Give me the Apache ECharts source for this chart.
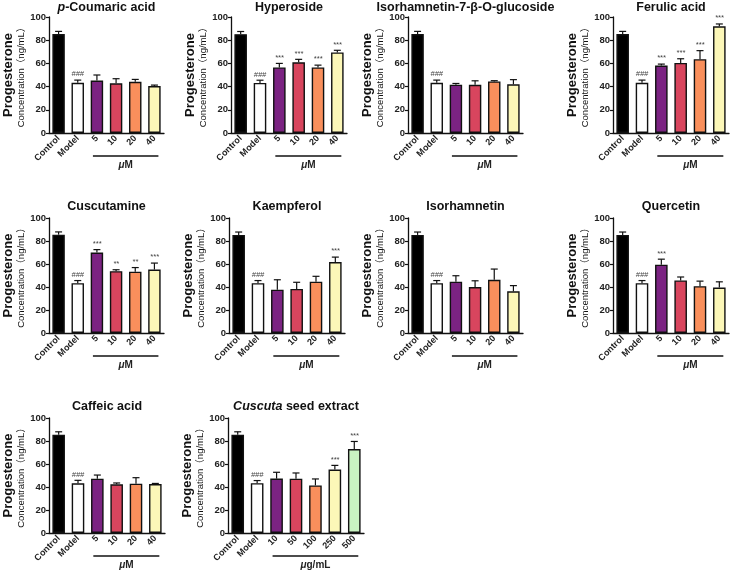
<!DOCTYPE html>
<html>
<head>
<meta charset="utf-8">
<script src="https://cdn.jsdelivr.net/npm/echarts@6/dist/echarts.min.js"></script>
<style>
  html, body { margin: 0; background: #fff; }
  #chart { width: 733px; height: 575px; }
</style>
</head>
<body>
<div id="chart"></div>
<script>
// categories
const doseCats = ['Control', 'Model', '5', '10', '20', '40'];
const extractCats = ['Control', 'Model', '10', '50', '100', '250', '500'];

// means / upper SD / significance marks per compound
const coumaricMean = [85.3, 43.3, 45.2, 42.8, 44.2, 40.5];
const coumaricSd = [2.3, 2.3, 4.8, 4.0, 2.0, 0.8];
const coumaricSig = ['', '###', '', '', '', ''];

const hyperosideMean = [85.2, 43.2, 56.5, 61.0, 56.5, 69.5];
const hyperosideSd = [2.3, 2.3, 3.5, 2.5, 2.0, 1.8];
const hyperosideSig = ['', '###', '***', '***', '***', '***'];

const isoGlucMean = [85.3, 43.3, 41.7, 41.5, 44.5, 42.0];
const isoGlucSd = [2.3, 2.3, 1.0, 3.5, 0.6, 4.0];
const isoGlucSig = ['', '###', '', '', '', ''];

const ferulicMean = [85.3, 43.3, 58.2, 60.4, 63.6, 92.0];
const ferulicSd = [2.3, 2.3, 1.2, 3.6, 7.4, 2.0];
const ferulicSig = ['', '###', '***', '***', '***', '***'];

const cuscutamineMean = [85.5, 43.3, 70.0, 53.8, 53.3, 55.2];
const cuscutamineSd = [2.4, 2.3, 2.5, 1.2, 3.6, 5.6];
const cuscutamineSig = ['', '###', '***', '**', '**', '***'];

const kaempferolMean = [85.3, 43.3, 37.7, 38.3, 44.6, 61.7];
const kaempferolSd = [2.5, 2.3, 8.6, 5.8, 4.7, 4.3];
const kaempferolSig = ['', '###', '', '', '', '***'];

const isorhamnetinMean = [85.3, 43.3, 44.6, 40.0, 46.3, 36.2];
const isorhamnetinSd = [2.5, 2.3, 5.2, 5.4, 9.3, 5.0];
const isorhamnetinSig = ['', '###', '', '', '', ''];

const quercetinMean = [85.3, 43.3, 59.4, 45.7, 40.7, 39.5];
const quercetinSd = [2.5, 2.3, 4.8, 3.0, 4.4, 5.0];
const quercetinSig = ['', '###', '***', '', '', ''];

const caffeicMean = [85.5, 43.2, 47.2, 42.3, 42.9, 42.5];
const caffeicSd = [2.5, 2.6, 3.2, 1.2, 5.2, 0.6];
const caffeicSig = ['', '###', '', '', '', ''];

const extractMean = [85.5, 43.3, 47.3, 47.2, 41.4, 55.2, 73.0];
const extractSd = [2.5, 2.3, 5.5, 5.0, 5.6, 3.6, 6.6];
const extractSig = ['', '###', '', '', '', '***', '***'];

const doseColors = ['#000000', '#ffffff', '#7b2382', '#d8455e', '#f98f5c', '#fcf7b8'];
const extractColors = ['#000000', '#ffffff', '#7b2382', '#d8455e', '#f98f5c', '#fcf7b8', '#c9f3c2'];

const panels = [
  { title: '{i|p}-Coumaric acid', cats: doseCats, mean: coumaricMean, sd: coumaricSd, sig: coumaricSig, colors: doseColors, unit: '{i|μ}M', grid: [49, 17, 115, 116] },
  { title: 'Hyperoside', cats: doseCats, mean: hyperosideMean, sd: hyperosideSd, sig: hyperosideSig, colors: doseColors, unit: '{i|μ}M', grid: [231, 17, 116, 116] },
  { title: 'Isorhamnetin-7-β-O-glucoside', cats: doseCats, mean: isoGlucMean, sd: isoGlucSd, sig: isoGlucSig, colors: doseColors, unit: '{i|μ}M', grid: [408, 17, 115, 116] },
  { title: 'Ferulic acid', cats: doseCats, mean: ferulicMean, sd: ferulicSd, sig: ferulicSig, colors: doseColors, unit: '{i|μ}M', grid: [613, 17, 116, 116] },
  { title: 'Cuscutamine', cats: doseCats, mean: cuscutamineMean, sd: cuscutamineSd, sig: cuscutamineSig, colors: doseColors, unit: '{i|μ}M', grid: [49, 218, 115, 115] },
  { title: 'Kaempferol', cats: doseCats, mean: kaempferolMean, sd: kaempferolSd, sig: kaempferolSig, colors: doseColors, unit: '{i|μ}M', grid: [229, 218, 116, 115] },
  { title: 'Isorhamnetin', cats: doseCats, mean: isorhamnetinMean, sd: isorhamnetinSd, sig: isorhamnetinSig, colors: doseColors, unit: '{i|μ}M', grid: [408, 218, 115, 115] },
  { title: 'Quercetin', cats: doseCats, mean: quercetinMean, sd: quercetinSd, sig: quercetinSig, colors: doseColors, unit: '{i|μ}M', grid: [613, 218, 116, 115] },
  { title: 'Caffeic acid', cats: doseCats, mean: caffeicMean, sd: caffeicSd, sig: caffeicSig, colors: doseColors, unit: '{i|μ}M', grid: [49, 418, 116, 115] },
  { title: '{i|Cuscuta} seed extract', cats: extractCats, mean: extractMean, sd: extractSd, sig: extractSig, colors: extractColors, unit: '{i|μ}g/mL', grid: [228, 418, 136, 115] }
];

const FONT = '"Liberation Sans", Arial, "Noto Sans CJK SC", sans-serif';

const chart = echarts.init(document.getElementById('chart'));

const grids = [], xAxes = [], yAxes = [], titles = [], series = [];

panels.forEach((p, i) => {
  const [left, top, width, height] = p.grid;
  grids.push({ left: left, top: top, width: width, height: height, containLabel: false });

  titles.push({
    text: p.title,
    left: left + width / 2,
    top: Math.max(top - 18, 1),
    textAlign: 'center',
    padding: 0,
    textStyle: {
      fontFamily: FONT, fontSize: 12.5, fontWeight: 'bold', color: '#111',
      rich: { i: { fontFamily: FONT, fontSize: 12.5, fontWeight: 'bold', fontStyle: 'italic', color: '#111' } }
    }
  });

  xAxes.push({
    type: 'category',
    gridIndex: i,
    data: p.cats,
    axisLine: { lineStyle: { color: '#111', width: 1.3 } },
    axisTick: { alignWithLabel: true, length: 3, lineStyle: { color: '#111', width: 1.2 } },
    axisLabel: { rotate: 45, interval: 0, margin: 4, fontFamily: FONT, fontSize: 9, fontWeight: 'bold', color: '#222' }
  });

  yAxes.push({
    type: 'value',
    gridIndex: i,
    min: 0, max: 100, interval: 20,
    splitLine: { show: false },
    axisLine: { show: true, lineStyle: { color: '#111', width: 1.3 } },
    axisTick: { show: true, length: 3, lineStyle: { color: '#111', width: 1.2 } },
    axisLabel: { margin: 3, fontFamily: FONT, fontSize: 9.5, fontWeight: 'bold', color: '#222' },
    name: '{a|Progesterone}\n{b|Concentration（ng/mL）}',
    nameLocation: 'middle',
    nameRotate: 90,
    nameGap: 21,
    nameTextStyle: {
      rich: {
        a: { fontFamily: FONT, fontSize: 13, fontWeight: 'bold', color: '#111', lineHeight: 15 },
        b: { fontFamily: FONT, fontSize: 9.5, color: '#111', lineHeight: 12 }
      }
    }
  });

  series.push({
    type: 'bar',
    xAxisIndex: i, yAxisIndex: i,
    barWidth: '65%',
    data: p.mean.map((v, k) => ({ value: v, itemStyle: { color: p.colors[k] } })),
    itemStyle: { borderColor: '#111', borderWidth: 1.4 },
    silent: true
  });

  series.push({
    type: 'custom',
    xAxisIndex: i, yAxisIndex: i,
    data: p.mean.map((v, k) => [k, v, p.sd[k]]),
    renderItem: (params, api) => {
      const k = api.value(0), m = api.value(1), s = api.value(2);
      const base = api.coord([k, m]);
      const tp = api.coord([k, m + s]);
      const children = [
        { type: 'line', shape: { x1: tp[0], y1: base[1], x2: tp[0], y2: tp[1] }, style: { stroke: '#111', lineWidth: 1.2 } },
        { type: 'line', shape: { x1: tp[0] - 3.5, y1: tp[1], x2: tp[0] + 3.5, y2: tp[1] }, style: { stroke: '#111', lineWidth: 1.2 } }
      ];
      const mark = p.sig[params.dataIndex];
      if (mark) {
        children.push({
          type: 'text',
          style: { text: mark, x: tp[0], y: tp[1] - 2, align: 'center', verticalAlign: 'bottom',
                   font: 'italic 7.5px ' + FONT, fill: '#444' }
        });
      }
      return { type: 'group', children: children };
    },
    z: 3, silent: true
  });

  const last = p.cats.length - 1;
  series.push({
    type: 'custom',
    xAxisIndex: i, yAxisIndex: i,
    data: [[2, 0]],
    renderItem: (params, api) => {
      const a = api.coord([2, 0]);
      const b = api.coord([last, 0]);
      return {
        type: 'group',
        children: [
          { type: 'line', shape: { x1: a[0] - 4, y1: a[1] + 23, x2: b[0] + 4, y2: a[1] + 23 }, style: { stroke: '#111', lineWidth: 1.6 } },
          { type: 'text', style: {
              text: p.unit, x: (a[0] + b[0]) / 2, y: a[1] + 32, align: 'center', verticalAlign: 'middle',
              fontFamily: FONT, fontSize: 10, fontWeight: 'bold', fill: '#222',
              rich: { i: { fontFamily: FONT, fontSize: 10, fontWeight: 'bold', fontStyle: 'italic', fill: '#222' } }
          } }
        ]
      };
    },
    silent: true
  });
});

chart.setOption({
  backgroundColor: '#fff',
  animation: false,
  title: titles,
  grid: grids,
  xAxis: xAxes,
  yAxis: yAxes,
  series: series
});
</script>
</body>
</html>
